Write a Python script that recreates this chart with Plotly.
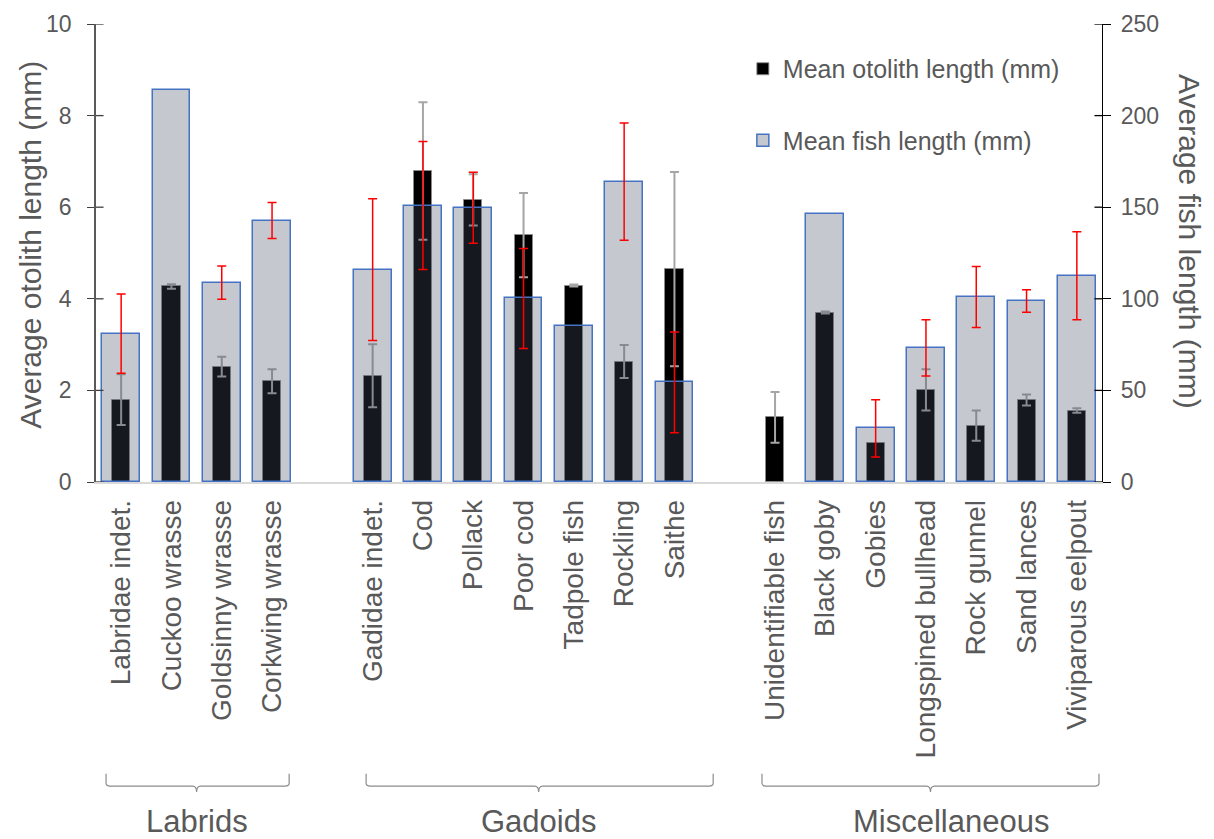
import plotly.graph_objects as go

# Species along the x axis; None marks the blank slot between groups
species = [
    "Labridae indet.", "Cuckoo wrasse", "Goldsinny wrasse", "Corkwing wrasse", None,
    "Gadidae indet.", "Cod", "Pollack", "Poor cod", "Tadpole fish", "Rockling", "Saithe", None,
    "Unidentifiable fish", "Black goby", "Gobies", "Longspined bullhead", "Rock gunnel",
    "Sand lances", "Viviparous eelpout",
]

# Mean otolith length (mm) and its error
otolith_mean = [1.80, 4.27, 2.52, 2.20, None,
                2.32, 6.79, 6.16, 5.39, 4.29, 2.63, 4.65, None,
                1.41, 3.70, 0.86, 2.01, 1.23, 1.79, 1.56]
otolith_err = [0.555, 0.05, 0.215, 0.26, None,
               0.69, 1.50, 0.56, 0.92, 0.02, 0.36, 2.12, None,
               0.555, 0.02, None, 0.45, 0.33, 0.12, 0.05]

# Mean fish length (mm) and its error
fish_mean = [81.0, 214.0, 108.8, 142.7, None,
             115.9, 150.9, 149.7, 100.2, 85.0, 164.0, 54.4, None,
             None, 146.4, 29.3, 73.2, 101.0, 98.8, 112.6]
fish_err = [21.6, None, 9.1, 9.8, None,
            38.7, 34.9, 19.4, 27.3, None, 32.0, 27.5, None,
            None, None, 15.6, 15.4, 16.6, 6.1, 24.0]

# Group brackets: (label, left slot, right slot, centre slot, label slot)
groups = [
    ("Labrids", -0.30, 3.34, 1.50, 1.50),
    ("Gadoids", 4.87, 11.77, 8.30, 8.30),
    ("Miscellaneous", 12.74, 19.44, 16.09, 16.50),
]

slots = list(range(len(species)))
tick_vals = [i for i, s in enumerate(species) if s]
tick_text = [s for s in species if s]


def with_error(means, errs):
    """Keep only the slots that carry an error value."""
    idx = [i for i, e in enumerate(errs) if e is not None]
    return idx, [means[i] for i in idx], [errs[i] for i in idx]


GREY_TEXT = "#595959"
FONT = "Arial, Liberation Sans, sans-serif"

fig = go.Figure()

# Otolith bars (left axis) and their grey error bars
fig.add_trace(go.Bar(
    x=slots, y=otolith_mean, width=0.36,
    name="Mean otolith length (mm)", legendgroup="a",
    marker=dict(color="#000000", line=dict(color="rgba(140,140,140,0.9)", width=1)),
    yaxis="y",
))
ox, oy, oe = with_error(otolith_mean, otolith_err)
fig.add_trace(go.Scatter(
    x=ox, y=oy, mode="markers", marker=dict(size=1, opacity=0),
    error_y=dict(type="data", array=oe, visible=True, color="#a6a6a6", thickness=2, width=4.5),
    showlegend=False, hoverinfo="skip", yaxis="y",
))

# Fish-length bars (right axis), translucent over the otolith bars, with red error bars
fig.add_trace(go.Bar(
    x=slots, y=fish_mean, width=0.75,
    name="Mean fish length (mm)", legendgroup="b",
    marker=dict(color="rgba(68,77,100,0.31)", line=dict(color="#4472c4", width=1.5)),
    yaxis="y2",
))
fx, fy, fe = with_error(fish_mean, fish_err)
fig.add_trace(go.Scatter(
    x=fx, y=fy, mode="markers", marker=dict(size=1, opacity=0),
    error_y=dict(type="data", array=fe, visible=True, color="#ff0000", thickness=1.5, width=4.5),
    showlegend=False, hoverinfo="skip", yaxis="y2",
))

shapes = []
# Inner half of the crossing tick marks on both value axes
for v in range(0, 11, 2):
    shapes.append(dict(type="line", xref="paper", yref="y", x0=0, x1=0.0075, y0=v, y1=v,
                       line=dict(color="#404040", width=1.3)))
for v in range(0, 251, 50):
    shapes.append(dict(type="line", xref="paper", yref="y2", x0=1 - 0.0075, x1=1, y0=v, y1=v,
                       line=dict(color="#000000", width=1.3)))

annotations = []
y_top, y_line, y_tip, y_label = -0.637, -0.664, -0.677, -0.742
for label, x0, x1, xc, xl in groups:
    r = 0.08
    path = (f"M {x0},{y_top} L {x0},{y_line + 0.006} Q {x0},{y_line} {x0 + r},{y_line} "
            f"L {xc - r},{y_line} Q {xc},{y_line} {xc},{y_tip} "
            f"Q {xc},{y_line} {xc + r},{y_line} L {x1 - r},{y_line} "
            f"Q {x1},{y_line} {x1},{y_line + 0.006} L {x1},{y_top}")
    shapes.append(dict(type="path", xref="x", yref="paper", path=path,
                       line=dict(color="#8c8c8c", width=1.2)))
    annotations.append(dict(x=xl, y=y_label, xref="x", yref="paper", text=label,
                            showarrow=False, font=dict(size=31, color=GREY_TEXT, family=FONT),
                            xanchor="center", yanchor="middle"))

# Axis titles: the left one reads upward, the right one reads downward
annotations.append(dict(x=-0.0646, y=0.518, xref="paper", yref="paper",
                        text="Average otolith length (mm)", textangle=-90, showarrow=False,
                        font=dict(size=30, color=GREY_TEXT, family=FONT),
                        xanchor="center", yanchor="middle"))
annotations.append(dict(x=1.0875, y=0.526, xref="paper", yref="paper",
                        text="Average fish length (mm)", textangle=90, showarrow=False,
                        font=dict(size=30, color=GREY_TEXT, family=FONT),
                        xanchor="center", yanchor="middle"))

fig.update_layout(
    width=1214, height=839,
    margin=dict(l=96, r=112, t=24, b=357),
    paper_bgcolor="white", plot_bgcolor="white",
    barmode="overlay", bargap=0,
    font=dict(family=FONT, color=GREY_TEXT, size=20),
    showlegend=True,
    legend=dict(x=0.643, y=0.952, xanchor="left", yanchor="top",
                traceorder="grouped", tracegroupgap=36,
                font=dict(size=25, color=GREY_TEXT, family=FONT),
                bgcolor="rgba(0,0,0,0)", itemwidth=30),
    xaxis=dict(range=[-0.5, 19.5], tickmode="array", tickvals=tick_vals, ticktext=tick_text,
               tickangle=-90, tickfont=dict(size=28, color=GREY_TEXT),
               showline=True, linecolor="#d9d9d9", linewidth=1.5,
               ticks="", ticklabelstandoff=5, showgrid=False, zeroline=False),
    yaxis=dict(range=[0, 10], dtick=2, tick0=0, showgrid=False, zeroline=False,
               showline=True, linecolor="#595959", linewidth=1.5,
               ticks="outside", ticklen=7, tickwidth=1.3, tickcolor="#404040",
               ticklabelstandoff=11,
               tickfont=dict(size=23, color=GREY_TEXT)),
    yaxis2=dict(range=[0, 250], dtick=50, tick0=0, overlaying="y", side="right",
                showgrid=False, zeroline=False,
                showline=True, linecolor="#000000", linewidth=1.3,
                ticks="outside", ticklen=8, tickwidth=1.3, tickcolor="#000000",
                ticklabelstandoff=5,
                tickfont=dict(size=23, color=GREY_TEXT)),
    shapes=shapes,
    annotations=annotations,
)

fig.write_html("out.html")
